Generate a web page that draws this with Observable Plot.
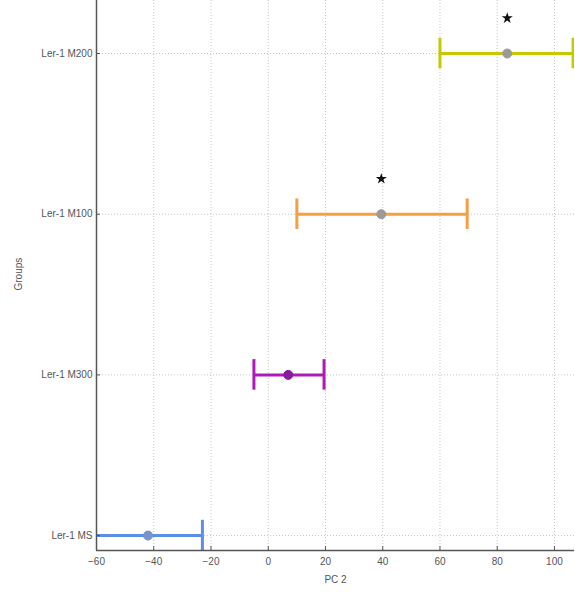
<!DOCTYPE html>
<html>
<head>
<meta charset="utf-8">
<script src="https://cdn.jsdelivr.net/npm/d3@7"></script>
<script src="https://cdn.jsdelivr.net/npm/@observablehq/plot@0.6"></script>
<style>
  html, body { margin: 0; padding: 0; background: #fff; }
  #chart { width: 575px; height: 592px; }
</style>
</head>
<body>
<div id="chart"></div>
<script>
// Data
const groups = ["Ler-1 MS", "Ler-1 M300", "Ler-1 M100", "Ler-1 M200"];
const positions = [1, 2, 3, 4];
const means = [-42, 7, 39.5, 83.5];
const lowers = [-62, -5, 10, 60];
const uppers = [-23, 19.5, 69.5, 106.5];
const significant = [false, false, true, true];
const barColors = ["#5b8ee6", "#b018b8", "#f5a040", "#c6c800"];
const dotColors = ["#7894cc", "#8a1a9c", "#9a9a9a", "#9a9a9a"];
const xTicks = [-60, -40, -20, 0, 20, 40, 60, 80, 100];

const data = groups.map((g, i) => ({
  group: g, pos: positions[i], mean: means[i], lo: lowers[i], hi: uppers[i],
  sig: significant[i], color: barColors[i], dot: dotColors[i]
}));

const capHalf = 0.095;
const starOffset = 0.22;

const chart = Plot.plot({
  width: 575,
  height: 592,
  marginLeft: 96,
  marginRight: 1,
  marginTop: 0,
  marginBottom: 42,
  style: { fontFamily: "Liberation Sans, Arial, sans-serif", fontSize: "10px", color: "#555", background: "#fff" },
  x: { domain: [-60, 107], label: null },
  y: { domain: [0.907, 4.33], label: null },
  marks: [
    Plot.gridX(xTicks, { stroke: "#c4c4c4", strokeOpacity: 1, strokeDasharray: "1,2" }),
    Plot.gridY(positions, { stroke: "#c4c4c4", strokeOpacity: 1, strokeDasharray: "1,2" }),
    Plot.ruleY(data, { y: "pos", x1: "lo", x2: "hi", stroke: "color", strokeWidth: 3, clip: true }),
    Plot.ruleX(data.filter(d => d.lo >= -60), { x: "lo", y1: d => d.pos - capHalf, y2: d => d.pos + capHalf, stroke: "color", strokeWidth: 3 }),
    Plot.ruleX(data, { x: "hi", y1: d => d.pos - capHalf, y2: d => d.pos + capHalf, stroke: "color", strokeWidth: 3, clip: true }),
    Plot.dot(data, { x: "mean", y: "pos", r: 4.5, fill: "dot", stroke: d => d.dot, strokeWidth: 1 }),
    Plot.dot(data.filter(d => d.sig), { x: "mean", y: d => d.pos + starOffset, symbol: "star", r: 3.5, fill: "#111" }),
    Plot.ruleX([-60], { stroke: "#555", strokeWidth: 1.5 }),
    Plot.ruleY([0.907], { stroke: "#555", strokeWidth: 1.5 }),
    Plot.axisX(xTicks, { tickSize: -4, tickFormat: () => "", stroke: "#555" }),
    Plot.axisX(xTicks, { tickSize: 0, tickPadding: 7, fill: "#555", fontSize: 10, label: "PC 2", labelAnchor: "center", labelOffset: 32, labelArrow: "none" }),
    Plot.axisY(positions, { tickSize: -4, tickFormat: () => "", stroke: "#555", label: null }),
    Plot.axisY(positions, { tickSize: 0, tickPadding: 4, tickFormat: (d) => groups[positions.indexOf(d)], fill: "#555", fontSize: 10, label: null }),
    Plot.text(["Groups"], { frameAnchor: "left", dx: -78, dy: 15, rotate: -90, text: d => d, fill: "#555", fontSize: 10 })
  ]
});
document.getElementById("chart").appendChild(chart);
</script>
</body>
</html>
